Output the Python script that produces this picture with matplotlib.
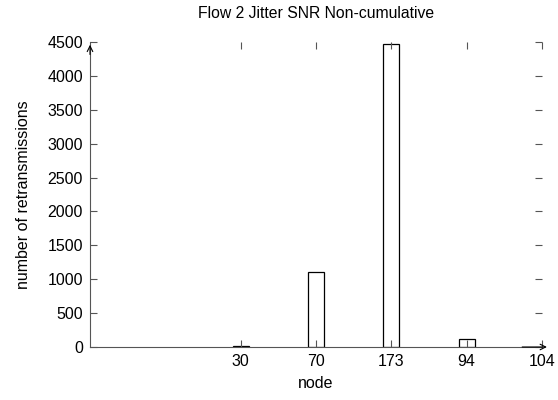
import matplotlib.pyplot as plt

plt.rcParams['font.family'] = ['Liberation Sans', 'DejaVu Sans']

# data
nodes = ['30', '70', '173', '94', '104']
retrans = [12, 1100, 4475, 112, 0]
positions = [2, 3, 4, 5, 6]

fig = plt.figure(figsize=(5.58, 4.0), dpi=100)
ax = fig.add_axes([90 / 558, 1 - 347 / 400, 452 / 558, 305 / 400])

# only nonzero counts get a bar
bx = [p for p, v in zip(positions, retrans) if v > 0]
bv = [v for v in retrans if v > 0]
ax.bar(bx, bv, width=0.21, facecolor='white', edgecolor='black', linewidth=0.9)

ax.set_xlim(0, 6)
ax.set_ylim(0, 4500)
ax.set_xticks(positions)
ax.set_xticklabels(nodes)
ax.set_yticks(range(0, 4501, 500))

ax.tick_params(direction='in', length=5, width=0.8, color='#555555',
               top=True, right=True, labelsize=11.5, pad=5)

for s in ['top', 'right']:
    ax.spines[s].set_visible(False)
for s in ['left', 'bottom']:
    ax.spines[s].set_color('#555555')
    ax.spines[s].set_linewidth(0.8)

# arrow heads on the axes
ax.annotate('', xy=(0, 1.0), xytext=(0, 0.95), xycoords='axes fraction',
            arrowprops=dict(arrowstyle='->', color='black', lw=0.8), annotation_clip=False)
ax.annotate('', xy=(1.017, 0), xytext=(0.95, 0), xycoords='axes fraction',
            arrowprops=dict(arrowstyle='->', color='black', lw=0.8), annotation_clip=False)

ax.set_title('Flow 2 Jitter SNR Non-cumulative', fontsize=11.3, pad=17)
ax.set_xlabel('node', fontsize=11.5, labelpad=5)
ax.set_ylabel('number of retransmissions', fontsize=11.5, labelpad=12)

fig.savefig('out.png', dpi=100)
